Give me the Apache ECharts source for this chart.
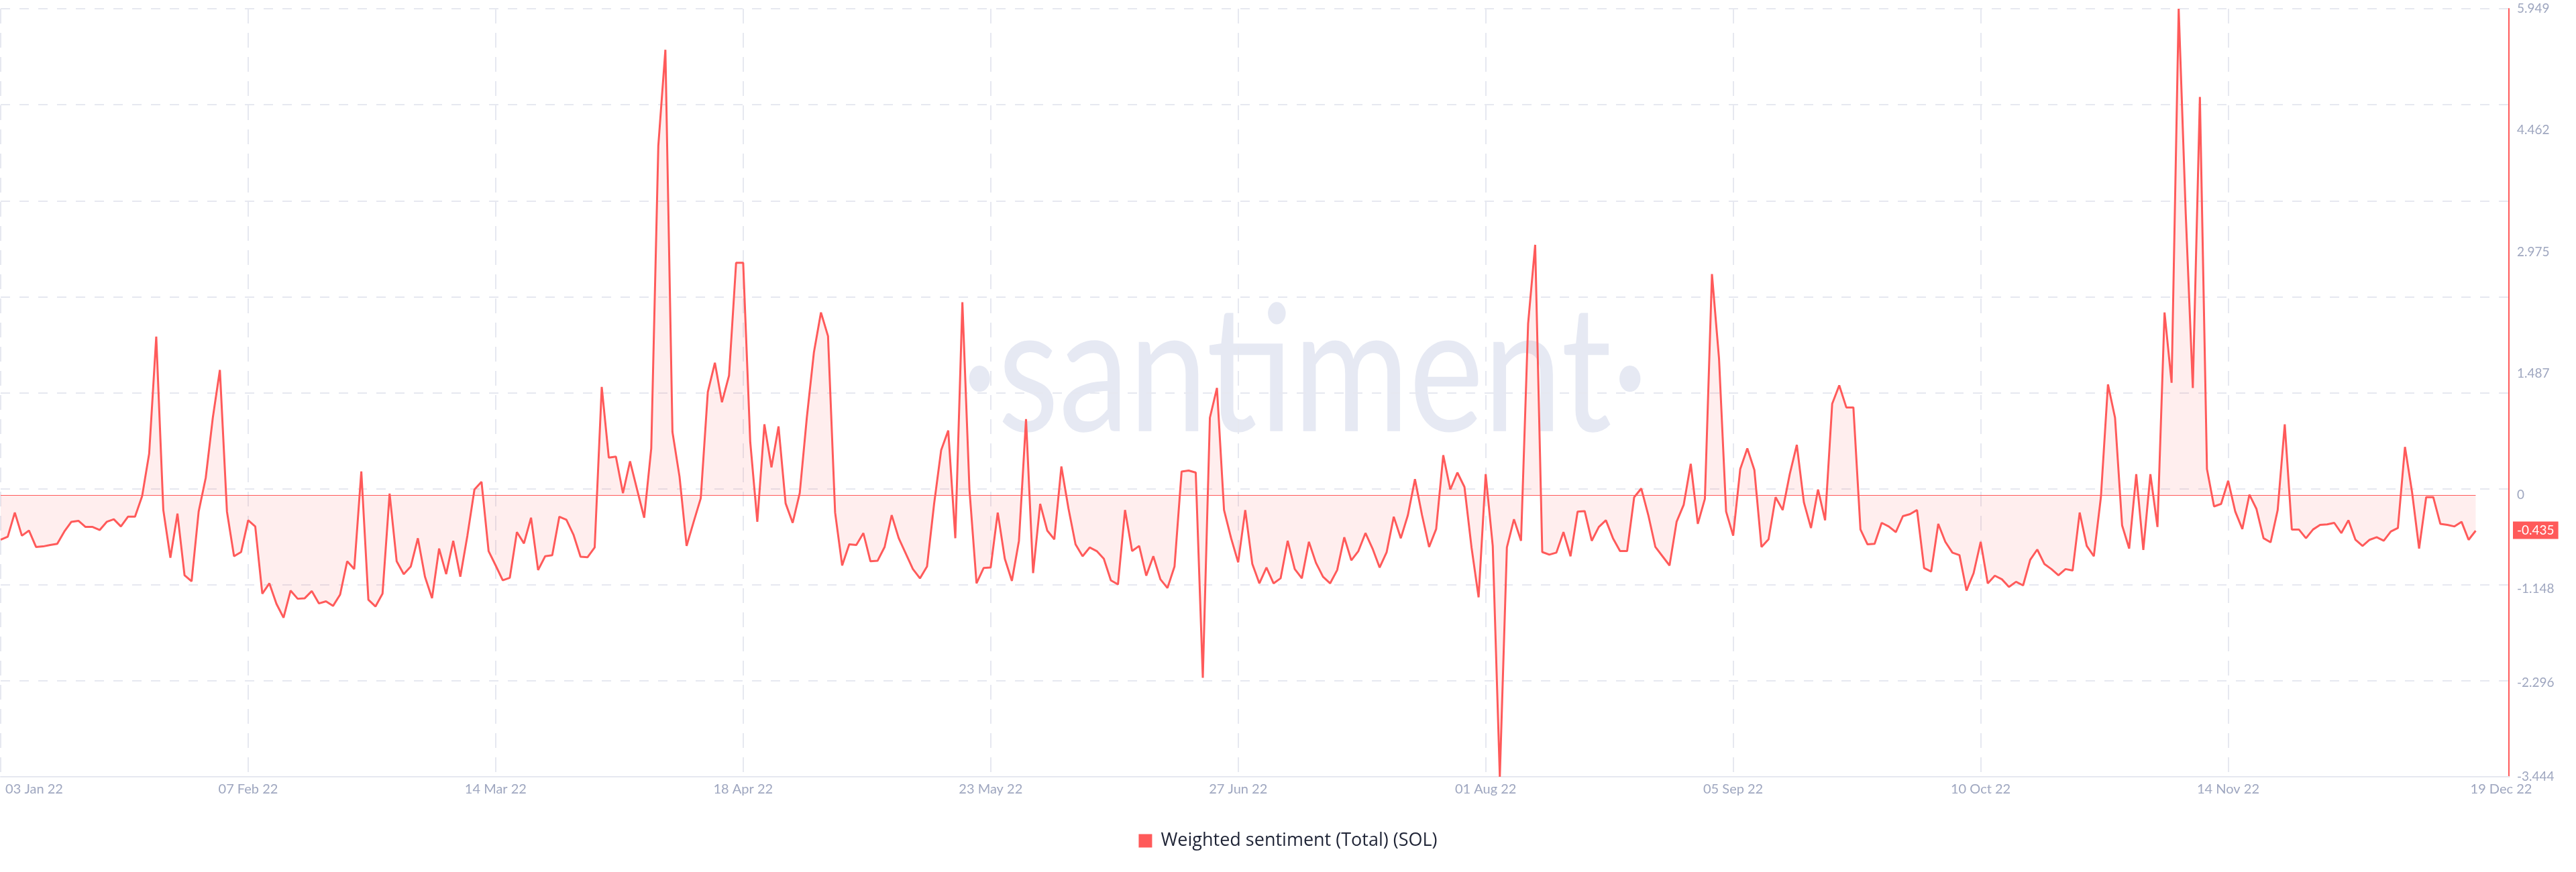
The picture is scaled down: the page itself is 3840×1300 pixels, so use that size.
<!DOCTYPE html>
<html><head><meta charset="utf-8">
<script src="https://cdn.jsdelivr.net/npm/echarts@6/dist/echarts.min.js"></script>
<style>html,body{margin:0;padding:0;background:#fff}#c{width:3840px;height:1300px}</style>
</head><body><div id="c"></div>
<script>
const startDate = '2022-01-03';
const seriesName = 'Weighted sentiment (Total) (SOL)';
const watermarkText = '\u00B7santiment\u00B7';

// daily values, 03 Jan 22 .. 19 Dec 22
const valuesPart1 = [
-0.546,-0.508,-0.213,-0.496,-0.433,-0.634,-0.627,-0.609,-0.596,-0.445,
-0.326,-0.314,-0.389,-0.389,-0.427,-0.326,-0.295,-0.383,-0.264,-0.264,
-0.013,0.508,1.939,-0.182,-0.766,-0.226,-0.979,-1.054,-0.201,0.213,
0.947,1.531,-0.201,-0.747,-0.696,-0.307,-0.383,-1.205,-1.079,-1.330,
-1.499,-1.167,-1.267,-1.261,-1.173,-1.324,-1.299,-1.355,-1.217,-0.809,
-0.904,0.289,-1.280,-1.362,-1.205,0.019,-0.809,-0.966,-0.872,-0.527,
-0.998,-1.261,-0.653,-0.966,-0.558,-0.998,-0.496,0.069,0.163,-0.684,
-0.860,-1.042,-1.010,-0.452,-0.590,-0.276,-0.916,-0.747,-0.734,-0.264,
-0.301,-0.483,-0.753,-0.759,-0.640,1.324,0.458,0.471
];
const valuesPart2 = [
0.025,0.414,0.069,-0.276,0.571,4.273,5.447,0.772,0.226,-0.621,
-0.326,-0.038,1.261,1.619,1.136,1.462,2.842,2.842,0.653,-0.326,
0.866,0.339,0.841,-0.100,-0.339,0.025,0.947,1.744,2.234,1.945,
-0.213,-0.860,-0.602,-0.609,-0.464,-0.809,-0.803,-0.634,-0.245,-0.527,
-0.715,-0.904,-1.017,-0.872,-0.107,0.552,0.791,-0.527,2.359,0.069,
-1.079,-0.891,-0.885,-0.213,-0.778,-1.048,-0.558,0.929,-0.954,-0.107,
-0.433,-0.540,0.351,-0.163,-0.602,-0.747,-0.640,-0.684,-0.778,-1.042,
-1.092,-0.182,-0.684,-0.621,-0.985,-0.747,-1.029,-1.136,-0.872,0.289,
0.301,0.276,-2.234,0.947,1.311,-0.182,-0.527,-0.822
];
const valuesPart3 = [
-0.182,-0.841,-1.079,-0.885,-1.079,-1.017,-0.558,-0.904,-1.017,-0.571,
-0.828,-0.998,-1.079,-0.916,-0.515,-0.797,-0.684,-0.464,-0.653,-0.885,
-0.696,-0.264,-0.527,-0.245,0.195,-0.245,-0.634,-0.414,0.489,0.069,
0.276,0.100,-0.640,-1.249,0.257,-0.621,-3.444,-0.640,-0.295,-0.558,
2.096,3.062,-0.696,-0.728,-0.703,-0.452,-0.747,-0.201,-0.195,-0.558,
-0.389,-0.307,-0.527,-0.684,-0.684,-0.025,0.082,-0.245,-0.634,-0.747,
-0.860,-0.326,-0.119,0.383,-0.351,-0.044,2.704,1.669,-0.201,-0.496,
0.320,0.571,0.307,-0.634,-0.540,-0.025,-0.182,0.257,0.615,-0.088,
-0.402,0.069,-0.307,1.117,1.343,1.073,1.073,-0.420
];
const valuesPart4 = [
-0.602,-0.596,-0.339,-0.383,-0.452,-0.257,-0.232,-0.182,-0.891,-0.935,
-0.351,-0.571,-0.703,-0.734,-1.167,-0.954,-0.571,-1.079,-0.985,-1.029,
-1.123,-1.060,-1.104,-0.791,-0.665,-0.841,-0.904,-0.979,-0.904,-0.922,
-0.213,-0.621,-0.747,-0.025,1.355,0.947,-0.370,-0.653,0.257,-0.671,
0.257,-0.389,2.234,1.374,5.949,3.439,1.311,4.869,0.320,-0.138,
-0.107,0.176,-0.201,-0.414,0.006,-0.169,-0.527,-0.577,-0.182,0.866,
-0.420,-0.420,-0.527,-0.420,-0.364,-0.358,-0.339,-0.464,-0.307,-0.546,
-0.621,-0.546,-0.515,-0.558,-0.445,-0.402,0.590,0.038,-0.653,-0.025,
-0.025,-0.351,-0.364,-0.383,-0.326,-0.546,-0.435
];
const yTickValues = [5.949, 4.462, 2.975, 1.487, 0, -1.148, -2.296, -3.444];
const xTickDays = [0, 35, 70, 105, 140, 175, 210, 245, 280, 315, 350];
const xGridDays = [0, 35, 70, 105, 140, 175, 210, 245, 280, 315];

const values = valuesPart1.concat(valuesPart2, valuesPart3, valuesPart4);
const lastDay = values.length - 1;
const lastValue = values[lastDay];
const yMin = Math.min.apply(null, values);
const yMax = Math.max.apply(null, values);
const xMax = 354.7;

const RED = '#ff5a5a';
const LABEL = '#9ea6bf';
const GRID = '#e6e8f0';
const MONTHS = ['Jan','Feb','Mar','Apr','May','Jun','Jul','Aug','Sep','Oct','Nov','Dec'];
const t0 = Date.parse(startDate);
function dayLabel(i) {
  const d = new Date(t0 + Math.round(i) * 86400000);
  return String(d.getUTCDate()).padStart(2, '0') + ' ' + MONTHS[d.getUTCMonth()] + ' ' + String(d.getUTCFullYear()).slice(2);
}

const chart = echarts.init(document.getElementById('c'), null, {renderer: 'canvas'});
chart.setOption({
  animation: false,
  backgroundColor: '#ffffff',
  grid: {left: 1, right: 100, top: 13, bottom: 142, containLabel: false},
  graphic: [{
    type: 'text', x: 1945, y: 558, scaleY: 1.25, z: 0, silent: true,
    style: {text: watermarkText, fontFamily: 'Lato', fontWeight: 'normal', fontSize: 210,
            fill: '#e6e9f3', align: 'center', verticalAlign: 'middle',
            textAlign: 'center', textVerticalAlign: 'middle'}
  }],
  legend: {
    top: 1235, left: 'center', icon: 'rect', itemWidth: 20, itemHeight: 20,
    textStyle: {fontFamily: 'Open Sans', fontSize: 27, color: '#1f2436', padding: [0, 0, 0, 8]},
    data: [seriesName]
  },
  xAxis: {
    type: 'value', min: 0, max: xMax,
    axisLine: {show: true, onZero: false, lineStyle: {color: GRID, width: 2}},
    axisTick: {show: false, customValues: xGridDays},
    axisLabel: {
      customValues: xTickDays, color: LABEL, fontFamily: 'Lato', fontSize: 20, margin: 9,
      formatter: function (v) {
        if (v === 0) return '{first|' + dayLabel(v) + '}';
        if (v === lastDay) return '{last|' + dayLabel(v) + '}';
        return dayLabel(v);
      },
      rich: {
        first: {color: LABEL, fontFamily: 'Lato', fontSize: 20, padding: [0, 0, 0, 100]},
        last: {color: LABEL, fontFamily: 'Lato', fontSize: 20, padding: [0, 0, 0, 76]}
      }
    },
    splitLine: {show: true, lineStyle: {color: GRID, width: 2, type: [22, 14]}}
  },
  yAxis: [{
    type: 'value', position: 'right', min: yMin, max: yMax,
    axisLine: {show: true, onZero: false, lineStyle: {color: RED, width: 2}},
    axisTick: {show: false},
    splitLine: {show: false},
    axisLabel: {customValues: yTickValues, color: LABEL, fontFamily: 'Lato', fontSize: 19, margin: 12,
                formatter: function (v) { return String(v); }}
  }, {
    type: 'value', position: 'left', min: 0, max: 8, interval: 1,
    axisLine: {show: false}, axisTick: {show: false}, axisLabel: {show: false},
    splitLine: {show: true, lineStyle: {color: GRID, width: 2, type: [14, 14]}}
  }],
  series: [{
    type: 'line', name: seriesName, yAxisIndex: 0, z: 3,
    data: values.map(function (v, i) { return [i, v]; }),
    showSymbol: false, symbol: 'none',
    lineStyle: {color: RED, width: 3},
    itemStyle: {color: RED},
    areaStyle: {color: 'rgba(255,90,90,0.15)'},
    markLine: {
      silent: true, symbol: 'none', animation: false,
      data: [
        [{coord: [0, 0], lineStyle: {color: RED, width: 1.2, type: 'solid'}, label: {show: false}},
         {coord: [lastDay, 0]}],
        {yAxis: lastValue, lineStyle: {color: 'rgba(255,255,255,0)', width: 0.01, type: 'solid'},
         label: {show: true, position: 'end', distance: 6, formatter: lastValue.toFixed(3), opacity: 1,
                 backgroundColor: RED, color: '#ffffff', fontFamily: 'Lato', fontSize: 19, padding: [4, 6, 3, 6]}}
      ]
    }
  }]
});
</script></body></html>
